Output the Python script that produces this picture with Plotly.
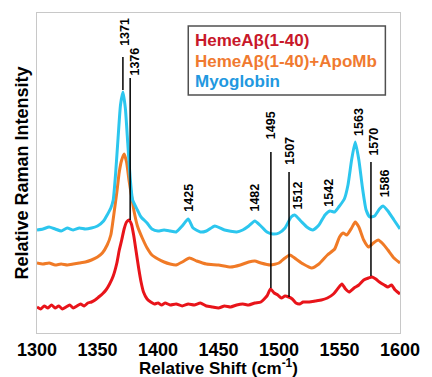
import plotly.graph_objects as go

# ---------------- data ----------------
# Myoglobin (cyan)
myo_x = [1300, 1305, 1310, 1315, 1320, 1325, 1330, 1335, 1340, 1345, 1350, 1355, 1358,
         1361, 1363, 1365, 1367, 1369, 1371, 1373, 1375, 1377, 1379, 1383, 1386, 1391,
         1395, 1400, 1405, 1410, 1415, 1420, 1425, 1429, 1435, 1440, 1447, 1455, 1465,
         1470, 1475, 1480, 1485, 1490, 1495, 1500, 1505, 1510, 1513, 1518, 1523, 1528,
         1533, 1538, 1542, 1546, 1550, 1554, 1557, 1560, 1563, 1566, 1569, 1572, 1575,
         1579, 1583, 1586, 1590, 1595, 1600]
myo_y = [103, 104, 106, 104, 102, 105, 103, 105, 104, 105, 107, 112, 118,
         125, 133, 160, 195, 228, 241, 225, 190, 155, 133, 123, 116, 110,
         104, 102, 103, 102, 101, 107, 114, 105, 101, 102, 107, 103, 101,
         103, 107, 112, 107, 101, 99, 100, 105, 116, 118, 112, 106, 103,
         108, 118, 122, 121, 127, 134, 148, 173, 191, 173, 145, 123, 116,
         117, 124, 127, 122, 113, 104]

# HemeAbeta(1-40)+ApoMb (orange)
apo_x = [1300, 1305, 1310, 1315, 1320, 1325, 1330, 1335, 1340, 1345, 1350, 1354, 1358,
         1361, 1364, 1366, 1368, 1370, 1372, 1374, 1376, 1378, 1380, 1383, 1387, 1391,
         1395, 1400, 1405, 1410, 1415, 1420, 1426, 1432, 1440, 1450, 1460, 1468, 1475,
         1480, 1485, 1493, 1500, 1505, 1509, 1514, 1520, 1527, 1533, 1540, 1546, 1550,
         1553, 1556, 1560, 1563, 1566, 1570, 1574, 1578, 1582, 1586, 1590, 1595, 1600]
apo_y = [70, 69, 70, 68, 69, 68, 69, 70, 71, 73, 76, 80, 88,
         98, 123, 141, 161, 173, 179, 171, 153, 138, 123, 107, 95, 85,
         78, 74, 71, 69, 68, 71, 75, 72, 69, 68, 66, 68, 71,
         72, 70, 68, 70, 75, 78, 74, 69, 65, 69, 78, 84, 96,
         100, 98, 105, 111, 106, 93, 86, 90, 93, 89, 83, 75, 70]

# HemeAbeta(1-40) (red)
heme_x = [1300, 1303, 1306, 1309, 1312, 1315, 1318, 1321, 1324, 1327, 1330, 1333, 1336,
          1339, 1342, 1345, 1348, 1351, 1354, 1357, 1360, 1363, 1366, 1368, 1370, 1372,
          1374, 1376, 1378, 1380, 1382, 1384, 1386, 1388, 1391, 1394, 1397, 1400, 1403,
          1406, 1410, 1415, 1420, 1425, 1430, 1435, 1440, 1445, 1450, 1455, 1460, 1465,
          1470, 1475, 1480, 1485, 1490, 1493, 1496, 1499, 1502, 1505, 1508, 1511, 1514,
          1517, 1520, 1525, 1530, 1535, 1540, 1545, 1549, 1552, 1555, 1558, 1562, 1566,
          1570, 1574, 1577, 1580, 1583, 1587, 1590, 1593, 1596, 1600]
heme_y = [26, 24, 27, 25, 28, 25, 27, 24, 26, 28, 25, 27, 29,
          27, 30, 31, 33, 36, 39, 43, 49, 57, 70, 83, 93, 104,
          111, 113, 109, 97, 81, 65, 51, 41, 34, 31, 29, 30, 28,
          30, 28, 29, 27, 29, 28, 30, 27, 26, 25, 27, 26, 28,
          29, 28, 30, 31, 37, 44, 40, 38, 35, 37, 36, 34, 30,
          29, 31, 31, 32, 33, 35, 39, 45, 49, 44, 41, 45, 48,
          53, 55, 56, 54, 51, 48, 46, 48, 43, 39]

# peak labels: text, x position, y position
peak_labels = ["1371", "1376", "1425", "1482", "1495", "1507", "1512", "1542", "1563", "1570", "1586"]
label_x = [1372.6, 1380.6, 1425.4, 1479.8, 1493.5, 1508.9, 1516.1, 1541.1, 1566.1, 1578.2, 1587.9]
label_y = [301, 271, 135, 135, 208, 182, 138, 140, 211, 191, 150]

# marker lines: x position, top, bottom
line_x = [1371, 1377, 1493.3, 1508.3, 1576]
line_top = [276, 255, 181, 161, 171]
line_bot = [243, 113, 45, 36, 57]

series_names = ["HemeAβ(1-40)", "HemeAβ(1-40)+ApoMb", "Myoglobin"]
x_ticks = [1300, 1350, 1400, 1450, 1500, 1550, 1600]

# ---------------- figure ----------------
line_colors = ["#e8141a", "#f07a26", "#2cc6ee"]
legend_colors = ["#c8182a", "#f07a30", "#2298e0"]
FONT = "Liberation Sans, Arial"

fig = go.Figure()
for xs, ys, name, col in [(heme_x, heme_y, series_names[0], line_colors[0]),
                          (apo_x, apo_y, series_names[1], line_colors[1]),
                          (myo_x, myo_y, series_names[2], line_colors[2])]:
    fig.add_trace(go.Scatter(x=xs, y=ys, mode="lines", name=name,
                             line=dict(color=col, width=3, shape="spline", smoothing=0.5),
                             showlegend=False))

for lx, t, b in zip(line_x, line_top, line_bot):
    fig.add_shape(type="line", x0=lx, x1=lx, y0=b, y1=t, xref="x", yref="y",
                  line=dict(color="black", width=1.5), layer="above")

for txt, lx, ly in zip(peak_labels, label_x, label_y):
    fig.add_annotation(x=lx, y=ly, xref="x", yref="y", text=txt, showarrow=False,
                       textangle=-90, xanchor="center", yanchor="middle",
                       font=dict(family=FONT, size=12.5, color="black", weight="bold"))

# legend box
fig.add_shape(type="rect", xref="paper", yref="paper", x0=0.4167, x1=0.9597, y0=0.744, y1=0.959,
              line=dict(color="#505050", width=1.5), fillcolor="white", layer="above")
for name, col, py in zip(series_names, legend_colors, [0.915, 0.850, 0.785]):
    fig.add_annotation(x=0.430, y=py, xref="paper", yref="paper", text=name, showarrow=False,
                       xanchor="left", yanchor="middle",
                       font=dict(family=FONT, size=17, color=col, weight="bold"))

# axis titles
fig.add_annotation(x=0.5, y=-0.106, xref="paper", yref="paper",
                   text="Relative Shift (cm<sup>-1</sup>)", showarrow=False,
                   xanchor="center", yanchor="middle",
                   font=dict(family=FONT, size=17, color="black", weight="bold"))
fig.add_annotation(x=-0.04, y=0.5, xref="paper", yref="paper",
                   text="Relative Raman Intensity", showarrow=False, textangle=-90,
                   xanchor="center", yanchor="middle",
                   font=dict(family=FONT, size=18, color="black", weight="bold"))

fig.update_layout(
    width=432, height=377,
    margin=dict(l=37, r=23, t=13, b=44),
    paper_bgcolor="white", plot_bgcolor="white",
    xaxis=dict(range=[1300, 1600], tickvals=x_ticks, showgrid=False, zeroline=False,
               showline=True, linecolor="#c8c8c8", linewidth=1, mirror=True,
               ticks="", ticklabelstandoff=0,
               tickfont=dict(family=FONT, size=18, color="black", weight="bold")),
    yaxis=dict(range=[0, 320], showgrid=False, zeroline=False, showticklabels=False,
               showline=True, linecolor="#c8c8c8", linewidth=1, mirror=True, ticks=""),
)

fig.write_html("out.html")
